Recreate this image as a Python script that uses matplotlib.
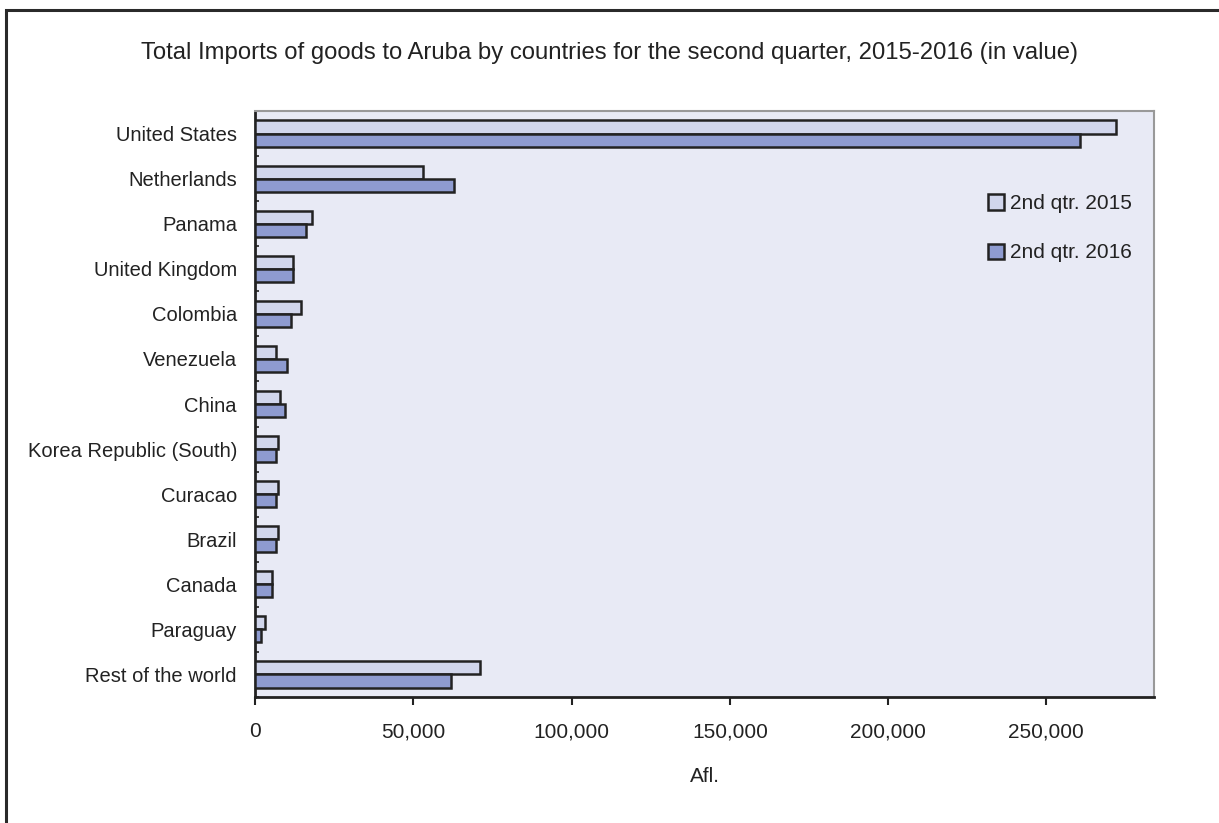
import matplotlib
matplotlib.use("Agg")
import matplotlib.pyplot as plt
import numpy as np
from matplotlib.patches import Rectangle
from matplotlib.ticker import FuncFormatter

plt.rcParams['font.family'] = ['Liberation Sans', 'DejaVu Sans']

## Data (Afl.)
countries = ["United States", "Netherlands", "Panama", "United Kingdom", "Colombia",
             "Venezuela", "China", "Korea Republic (South)", "Curacao", "Brazil",
             "Canada", "Paraguay", "Rest of the world"]
q2_2015 = [272100, 53000, 18000, 11900, 14600, 6600, 8000, 7400, 7400, 7400, 5300, 3200, 71100]
q2_2016 = [260700, 63000, 16000, 11900, 11300, 10100, 9400, 6600, 6600, 6600, 5300, 1900, 61900]
series_labels = ["2nd qtr. 2015", "2nd qtr. 2016"]

c_light = "#d1d6ec"
c_dark = "#8e9bd0"
edge = "#222222"
txt = "#222222"

fig = plt.figure(figsize=(12.19, 8.23), dpi=100)
# outer frame round the whole chart (runs off the right and bottom edges)
fig.patches.append(Rectangle((6/1219, -0.05), 1.1, 1 - 10/823 + 0.05, transform=fig.transFigure,
                             fill=False, edgecolor="#2a2a2a", linewidth=2.2, zorder=0))

ax = fig.add_axes([255/1219, 1 - 697/823, (1154 - 255)/1219, (697 - 111)/823])
ax.set_facecolor("#e8eaf5")

y = np.arange(len(countries))
h = 0.29
ax.barh(y - h/2, q2_2015, height=h, color=c_light, edgecolor=edge, linewidth=1.8, label=series_labels[0], zorder=3)
ax.barh(y + h/2, q2_2016, height=h, color=c_dark, edgecolor=edge, linewidth=1.8, label=series_labels[1], zorder=3)

ax.set_ylim(len(countries) - 0.5, -0.5)
ax.set_xlim(0, 284000)
ax.set_yticks(y)
ax.set_yticklabels(countries, fontsize=14.5, color=txt)
ax.set_yticks(np.arange(len(countries) + 1) - 0.5, minor=True)
ax.tick_params(axis="y", which="major", length=0, pad=13)
ax.tick_params(axis="y", which="minor", length=3, direction="in", width=1.2, color=edge)
ax.set_xticks([0, 50000, 100000, 150000, 200000, 250000])
ax.xaxis.set_major_formatter(FuncFormatter(lambda v, p: f"{int(v):,}"))
ax.tick_params(axis="x", length=6, width=1.5, color=edge, labelsize=15, pad=12, labelcolor=txt)
ax.set_xlabel("Afl.", fontsize=15, labelpad=19, color=txt)

for s in ["top", "right"]:
    ax.spines[s].set_color("#999999")
    ax.spines[s].set_linewidth(1.5)
for s in ["left", "bottom"]:
    ax.spines[s].set_color(edge)
    ax.spines[s].set_linewidth(2)

leg = ax.legend(loc="upper left", bbox_to_anchor=(0.795, 0.89), frameon=False, fontsize=15,
                handlelength=0.75, handleheight=0.75, handletextpad=0.3, labelspacing=1.45)
for p in leg.get_patches():
    p.set_linewidth(1.8)
for t in leg.get_texts():
    t.set_color(txt)

fig.text(0.5, 1 - 53/823, "Total Imports of goods to Aruba by countries for the second quarter, 2015-2016 (in value)",
         ha="center", va="center", fontsize=17.2, color=txt)

fig.savefig("out.png", dpi=100)
plt.close("all")
